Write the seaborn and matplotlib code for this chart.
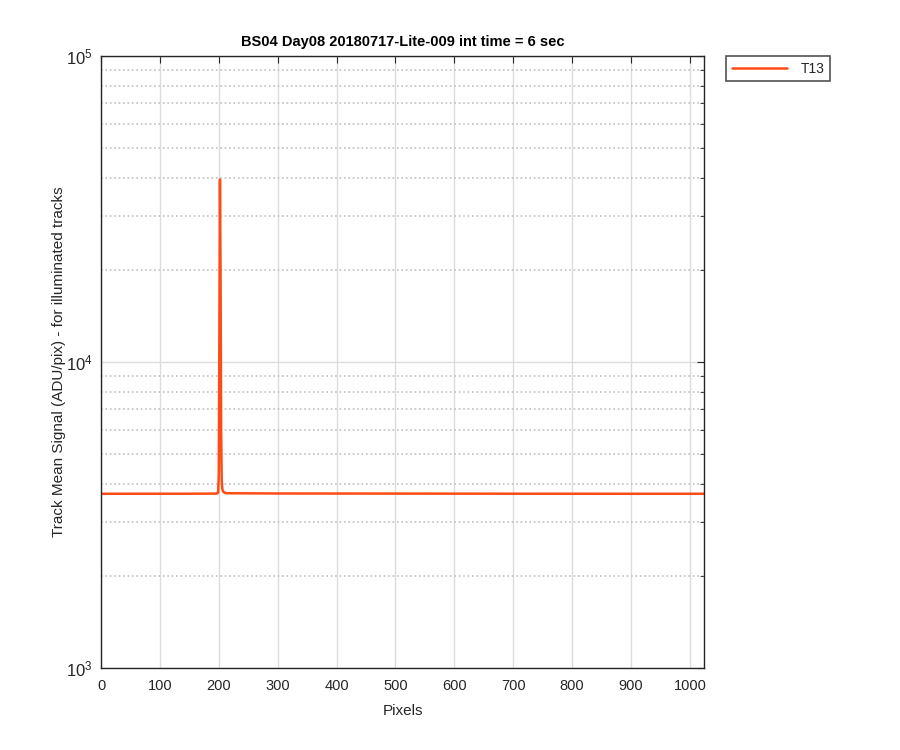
import seaborn as sns
import pandas as pd
import numpy as np
import matplotlib.pyplot as plt
from matplotlib.ticker import LogLocator, LogFormatterMathtext, NullFormatter

# track profile (pixel, mean signal)
pixels = [1, 150, 196, 198, 199, 200, 201, 202, 203, 204, 205, 206, 207, 208, 210, 214, 300, 500, 700, 900, 1024]
signal = [3710, 3712, 3715, 3725, 3760, 4300, 12000, 39500, 20000, 6000, 4100, 3850, 3790, 3760, 3740, 3725, 3718, 3715, 3712, 3710, 3710]
track = 'T13'

data = pd.DataFrame({'Pixels': pixels, 'Signal': signal, 'Track': track})

sns.set_style('white')
plt.rcParams['font.family'] = ['Liberation Sans', 'DejaVu Sans']
plt.rcParams['mathtext.default'] = 'regular'

fig = plt.figure(figsize=(9, 7.5), dpi=100)
ax = fig.add_axes([101/900, 1-668/750, 603/900, 612/750])

sns.lineplot(x='Pixels', y='Signal', data=data, hue='Track', palette=['#ff4b14'],
             linewidth=1.8, ax=ax, legend=False)

ax.set_yscale('log')
ax.set_ylim(1e3, 1e5)
ax.set_xlim(0, 1024)
ax.set_xticks(np.arange(0, 1001, 100))
ax.yaxis.set_major_locator(LogLocator(base=10))
ax.yaxis.set_major_formatter(LogFormatterMathtext())
ax.yaxis.set_minor_locator(LogLocator(base=10, subs=np.arange(2, 10)))
ax.yaxis.set_minor_formatter(NullFormatter())

# matlab-like grid
ax.grid(True, which='major', color='#dcdcdc', linestyle='-', linewidth=1.0)
ax.grid(True, which='minor', axis='y', color='#c0c0c0', linestyle=':', linewidth=1.2)
ax.set_axisbelow(True)

for s in ax.spines.values():
    s.set_color('#262626')
    s.set_linewidth(1.0)
ax.tick_params(which='both', direction='in', top=True, right=True, colors='#262626',
               labelsize=10.5)
ax.tick_params(axis='x', pad=8)
ax.tick_params(axis='y', labelsize=12, pad=6)
ax.tick_params(which='major', length=5)
ax.tick_params(which='minor', length=3)

ax.set_title('BS04 Day08 20180717-Lite-009 int time = 6 sec', fontsize=10.5,
             fontweight='bold', color='black', pad=7)
ax.set_xlabel('Pixels', fontsize=11, color='#262626', labelpad=8)
ax.set_ylabel('Track Mean Signal (ADU/pix) - for illuminated tracks', fontsize=11,
              color='#262626', labelpad=0)

handles = [plt.Line2D([], [], color='#ff4b14', linewidth=1.8)]
leg = fig.legend(handles, [track], loc='upper left', bbox_to_anchor=(726/900, 1-56/750),
                 frameon=True, fancybox=False, fontsize=10, handlelength=4.0,
                 handletextpad=1.0, borderpad=0.4, borderaxespad=0)
leg.get_frame().set_edgecolor('#262626')
leg.get_frame().set_linewidth(1.2)

fig.savefig('out.png', dpi=100, facecolor='white')
